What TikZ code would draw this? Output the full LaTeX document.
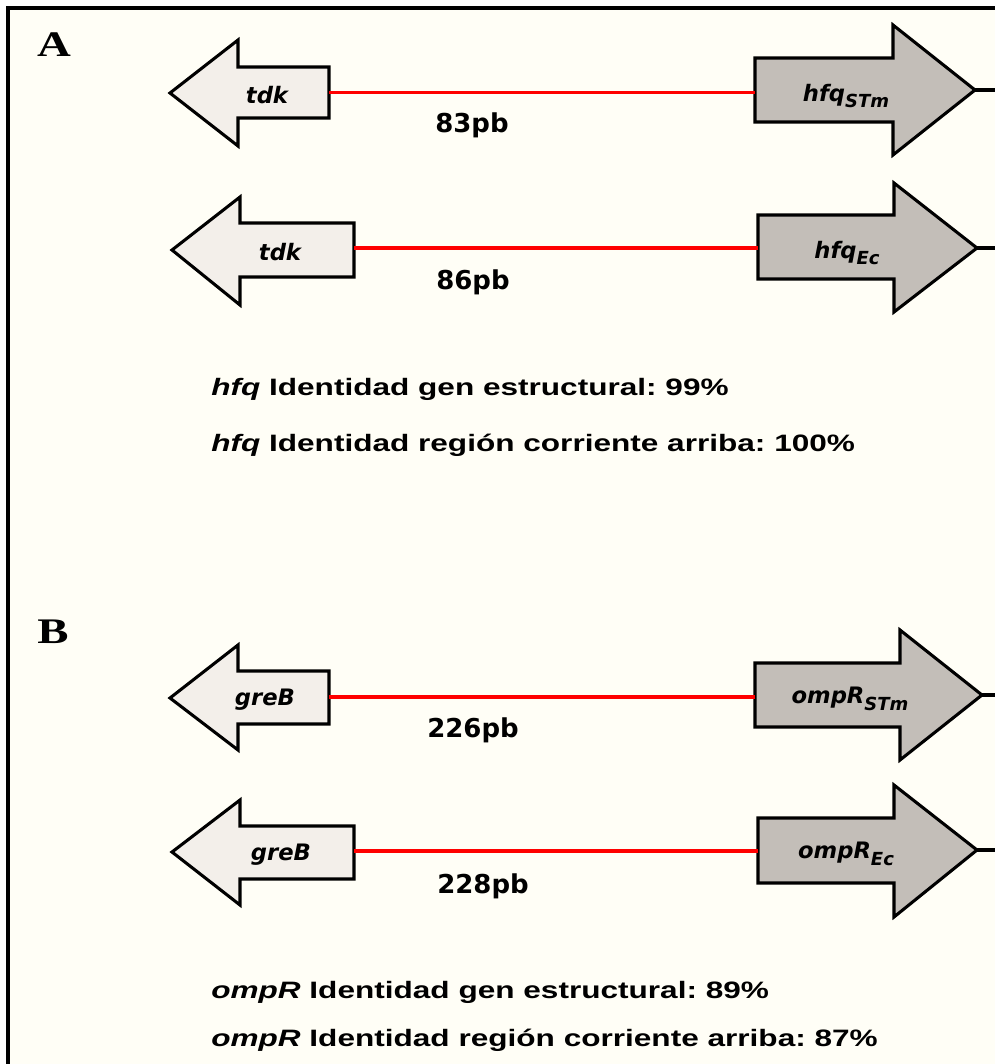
\documentclass[tikz,border=0pt]{standalone}
\usepackage{fontspec}
\setmainfont{Liberation Sans}
\newfontfamily\dvfont{DejaVu Sans}
\newfontfamily\tmsfont{Liberation Serif}
\definecolor{bgc}{HTML}{FFFEF6}
\definecolor{lgene}{HTML}{F3EFEA}
\definecolor{rgene}{HTML}{C3BEB8}
\definecolor{rline}{HTML}{FF0000}
\frenchspacing
\newcommand{\subt}[1]{\raisebox{-0.28em}{\fontsize{13.5}{13.5}\selectfont #1}}
\newcommand{\wide}[1]{\scalebox{1.3}[1]{#1}}
\newcommand{\widetext}[1]{\scalebox{1.33}[1]{#1}}
\begin{document}
\begin{tikzpicture}[x=0.75pt,y=-0.75pt,
  lgenebox/.style={draw=black,fill=lgene,line width=2.3pt,line join=miter},
  rgenebox/.style={draw=black,fill=rgene,line width=2.3pt,line join=miter},
  spacer/.style={draw=rline,line width=2.6pt},
  tail/.style={draw=black,line width=2.3pt},
  glabel/.style={font=\dvfont\bfseries\itshape\fontsize{17}{18}\selectfont,inner sep=0pt},
  pblabel/.style={font=\dvfont\bfseries\fontsize{19.5}{20}\selectfont,inner sep=0pt},
  idtext/.style={anchor=west,font=\bfseries\fontsize{17.8}{18}\selectfont,inner sep=0pt},
  panel/.style={font=\tmsfont\bfseries\fontsize{27}{28}\selectfont,inner sep=0pt}
]
\useasboundingbox (0,0) rectangle (995,1064);
\fill[white] (0,0) rectangle (995,1064);
\fill[bgc] (8,8) rectangle (995,1064);
\draw[line width=2.4pt] (8,1064) -- (8,8) -- (995,8);

% Panel A
\node[panel] (labA) at (54,45) {\wide{A}};

% row 1
\draw[lgenebox] (170,93) -- (238,40) -- (238,67) -- (329,67) -- (329,118) -- (238,118) -- (238,146) -- cycle;
\coordinate (tdk1) at (329,92.5);
\draw[rgenebox] (755,58) -- (893,58) -- (893,25) -- (975,90) -- (893,155) -- (893,122) -- (755,122) -- cycle;
\coordinate (hfq1) at (755,92.5);
\coordinate (hfq1tip) at (975,90);
\coordinate (hfq1end) at (995,90);
\draw[spacer] (tdk1) -- (hfq1);
\draw[tail] (hfq1tip) -- (hfq1end);
\node[glabel] (tdk1l) at (267,95) {tdk};
\node[glabel] (hfq1l) at (846,96) {hfq\subt{STm}};
\node[pblabel] (pb1) at (472,125) {83pb};

% row 2
\draw[lgenebox] (172,250) -- (240,197) -- (240,223) -- (354,223) -- (354,277) -- (240,277) -- (240,305) -- cycle;
\coordinate (tdk2) at (354,248);
\draw[rgenebox] (758,215) -- (894,215) -- (894,183) -- (977,248) -- (894,312) -- (894,279) -- (758,279) -- cycle;
\coordinate (hfq2) at (758,248);
\coordinate (hfq2tip) at (977,248);
\coordinate (hfq2end) at (995,248);
\draw[spacer] (tdk2) -- (hfq2);
\draw[tail] (hfq2tip) -- (hfq2end);
\node[glabel] (tdk2l) at (280,252) {tdk};
\node[glabel] (hfq2l) at (847,253) {hfq\subt{Ec}};
\node[pblabel] (pb2) at (473,282) {86pb};

\node[idtext] (idA1) at (211,389) {\widetext{\textit{hfq} Identidad gen estructural: 99\%}};
\node[idtext] (idA2) at (211,445) {\widetext{\textit{hfq} Identidad región corriente arriba: 100\%}};

% Panel B
\node[panel] (labB) at (53,632) {\wide{B}};

% row 3
\draw[lgenebox] (170,698) -- (238,645) -- (238,671) -- (329,671) -- (329,724) -- (238,724) -- (238,750) -- cycle;
\coordinate (greB1) at (329,697);
\draw[rgenebox] (755,663) -- (900,663) -- (900,630) -- (982,695) -- (900,760) -- (900,727) -- (755,727) -- cycle;
\coordinate (ompR1) at (755,697);
\coordinate (ompR1tip) at (982,695);
\coordinate (ompR1end) at (995,695);
\draw[spacer] (greB1) -- (ompR1);
\draw[tail] (ompR1tip) -- (ompR1end);
\node[glabel] (greB1l) at (265,700) {greB};
\node[glabel] (ompR1l) at (850,699) {ompR\subt{STm}};
\node[pblabel] (pb3) at (473,730) {226pb};

% row 4
\draw[lgenebox] (172,852) -- (240,800) -- (240,826) -- (354,826) -- (354,879) -- (240,879) -- (240,905) -- cycle;
\coordinate (greB2) at (354,851);
\draw[rgenebox] (758,818) -- (894,818) -- (894,785) -- (977,850) -- (894,917) -- (894,883) -- (758,883) -- cycle;
\coordinate (ompR2) at (758,851);
\coordinate (ompR2tip) at (977,850);
\coordinate (ompR2end) at (995,850);
\draw[spacer] (greB2) -- (ompR2);
\draw[tail] (ompR2tip) -- (ompR2end);
\node[glabel] (greB2l) at (281,855) {greB};
\node[glabel] (ompR2l) at (846,854) {ompR\subt{Ec}};
\node[pblabel] (pb4) at (483,886) {228pb};

\node[idtext] (idB1) at (211,992) {\widetext{\textit{ompR} Identidad gen estructural: 89\%}};
\node[idtext] (idB2) at (211,1040) {\widetext{\textit{ompR} Identidad región corriente arriba: 87\%}};
\end{tikzpicture}
\end{document}
